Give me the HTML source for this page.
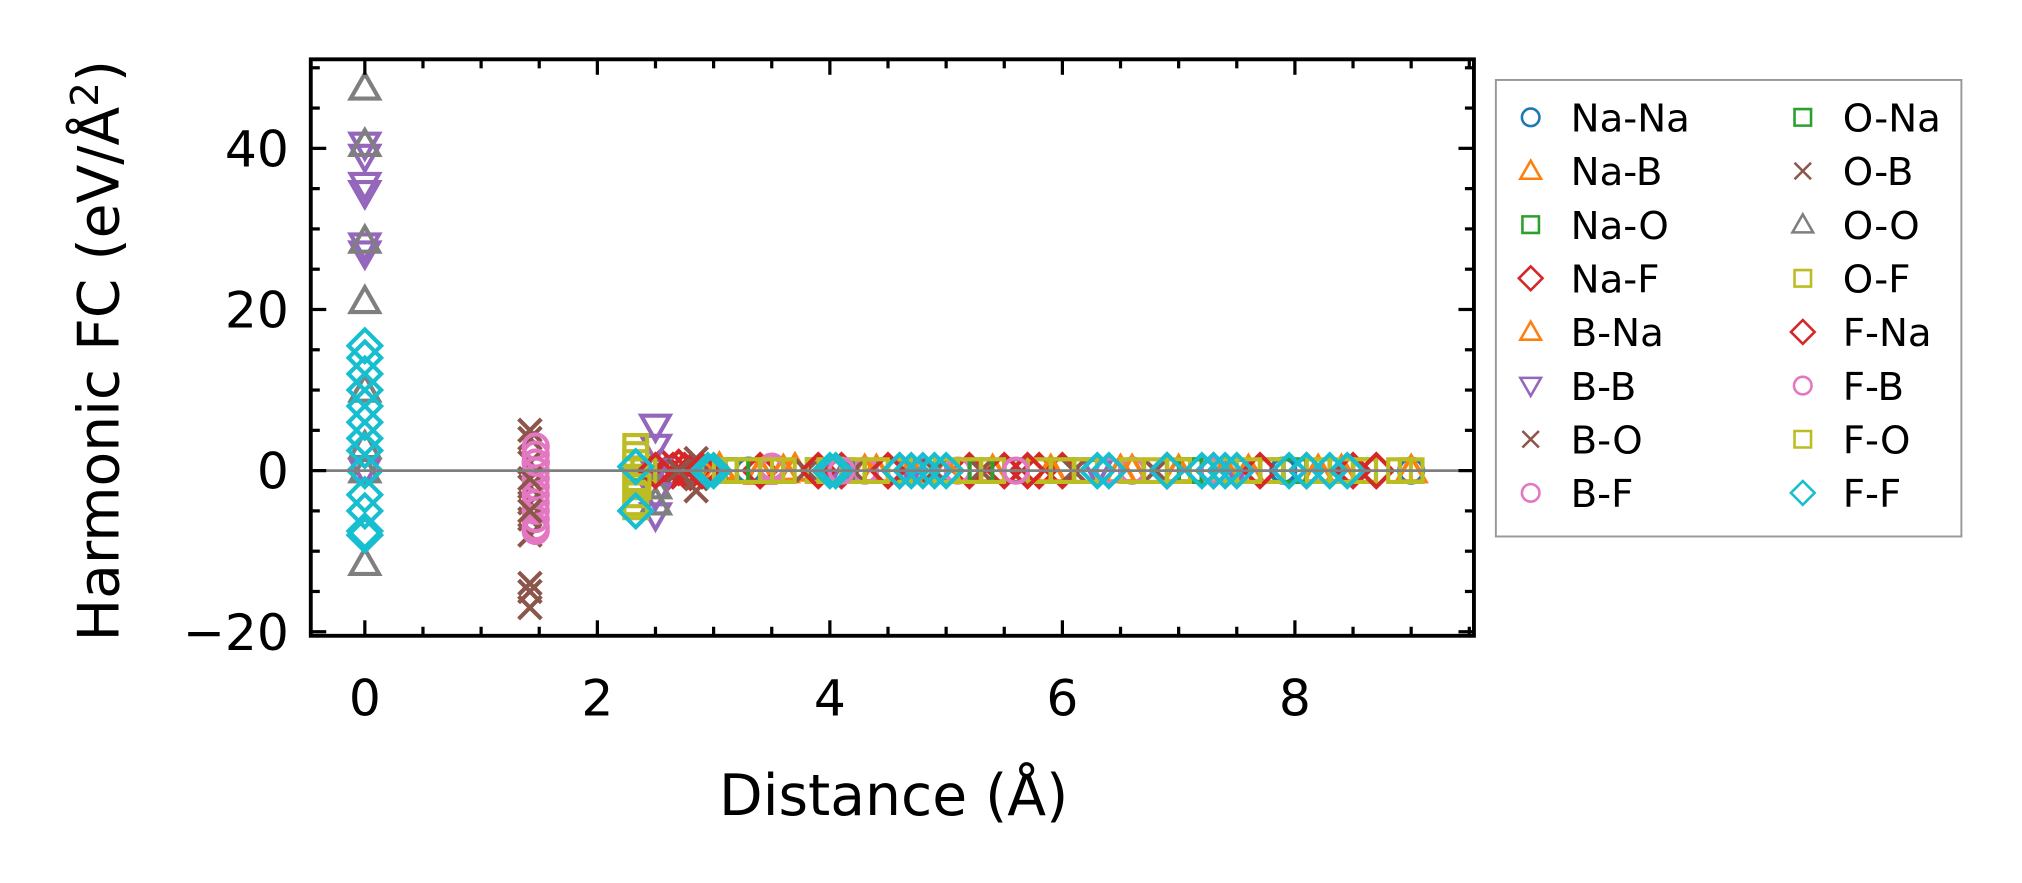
<!DOCTYPE html>
<html><head><meta charset="utf-8"><style>
html,body{margin:0;padding:0;background:#fff;}
svg{display:block;font-family:"DejaVu Sans","Liberation Sans",sans-serif;}
</style></head><body>
<svg id="chart" width="2022" height="883" viewBox="0 0 1568 684.7" preserveAspectRatio="none">
<g id="marks"></g>
<g id="axes"></g>
<g id="legend"></g>
</svg>
<script>
// ---- data ----
const seriesNames = ["Na-Na","Na-B","Na-O","Na-F","B-Na","B-B","B-O","B-F","O-Na","O-B","O-O","O-F","F-Na","F-B","F-O","F-F"];
const seriesColors = ["#1f77b4","#ff7f0e","#2ca02c","#d62728","#ff7f0e","#9467bd","#8c564b","#e377c2","#2ca02c","#8c564b","#7f7f7f","#bcbd22","#d62728","#e377c2","#bcbd22","#17becf"];
const seriesMarkers = ["o","^","s","D","^","v","x","o","s","x","^","s","D","o","s","D"];
const naNaX = [3.3,4.6,6.6,7.9,9.0];
const naNaY = [0,0,0,0,0];
const naBX = [3.05,3.4,3.7,4.3,4.7,5.4,6.5,7.0,7.6,8.4];
const naBY = [0.3,-0.2,0.2,0,0,0,0,0,0,0];
const naOX = [2.4,3.1,3.9,4.5,5.6,6.2,7.1,7.8,8.6];
const naOY = [0.2,0,0,0,0,0,0,0,0];
const naFX = [2.55,2.6,2.65,2.7,2.75,2.8,3.4,4.1,4.6,5.2,5.5,5.8,6.0,6.9,7.3,8.1,8.5];
const naFY = [0.5,-0.3,0,0.4,0,-0.2,0,0,0,0,0,0,0,0,0,0,0];
const bNaX = [3.0,3.6,4.4,5.0,5.9,6.6,7.4,8.2,9.0];
const bNaY = [0,0,0,0,0,0,0,0,0];
const bBX = [0,0,0,0,0,0,0,2.5,2.5,2.5,2.5,2.5,4.0,4.7,6.3,7.5];
const bBY = [40.5,39,35.5,34.5,28,27,0,5.5,3,-3,-5.5,0,0,0,0,0];
const bOX = [1.42,1.42,1.42,1.42,1.42,1.42,1.42,1.42,1.42,1.42,2.85,2.85,2.85,4.2,5.3,6.8];
const bOY = [5,4,1,-2,-4,-6,-8,-14,-15,-17,1.5,-1,-2.5,0,0,0];
const bFX = [1.47,1.47,1.47,1.47,1.47,1.47,1.47,1.47,1.47,1.47,1.47,1.47,3.5,4.3,5.1,6.6];
const bFY = [3,2,1,0,-1,-2,-3,-4,-5,-6,-7,-7.5,0.5,0,0,0];
const oNaX = [2.4,3.2,4.1,5.3,6.0,7.1,8.0];
const oNaY = [0,0,0,0,0,0,0];
const oBX = [1.42,1.42,2.7,3.8,4.9,6.1];
const oBY = [-1,-5,0,0,0,0];
const oOX = [0,0,0,0,0,0,0,0,2.5,2.5];
const oOY = [47.5,40.5,28.5,21,10,3,0,-11.5,-2,-4];
const oFX = [2.33,2.33,2.33,2.33,2.33,2.33,2.33,2.33,2.33,2.4,3.0,3.3,3.6,3.9,4.2,4.6,5.0,5.4,5.8,6.2,6.6,7.0,7.4,7.8,8.2,8.6,9.0];
const oFY = [3,2,1,0,-1,-2,-3,-4,-4.5,0,0,0,0,0,0,0,0,0,0,0,0,0,0,0,0,0,0];
const fNaX = [2.5,2.9,3.9,4.5,5.7,6.9,7.7,8.7];
const fNaY = [0,0,0,0,0,0,0,0];
const fBX = [1.47,3.5,4.1,5.6,6.4,7.3];
const fBY = [1,0,0,0,0,0];
const fOX = [2.35,3.1,3.5,4.0,4.4,5.2,6.0,6.8,7.6,8.4,8.9];
const fOY = [-2,0,0,0,0,0,0,0,0,0,0];
const fFX = [0,0,0,0,0,0,0,0,0,0,0,0,0,2.33,2.33,2.95,3.0,4.0,4.05,4.6,4.7,4.8,4.9,5.0,6.3,6.4,6.9,7.2,7.3,7.4,7.5,7.95,8.1,8.3,8.45];
const fFY = [15.5,14,12,10,8,6,4,2.5,0,-3,-5,-7.5,-8,0.5,-5,0,0,0,0,0,0,0,0,0,0,0,0,0,0,0,0,0,0,0,0];
const seriesX = [naNaX,naBX,naOX,naFX,bNaX,bBX,bOX,bFX,oNaX,oBX,oOX,oFX,fNaX,fBX,fOX,fFX];
const seriesY = [naNaY,naBY,naOY,naFY,bNaY,bBY,bOY,bFY,oNaY,oBY,oOY,oFY,fNaY,fBY,fOY,fFY];
const xTicks = [0,2,4,6,8];
const xTickLabels = ["0","2","4","6","8"];
const yTicks = [-20,0,20,40];
const yTickLabels = ["\u221220","0","20","40"];

// ---- scales ----
const L=241,R=1143,T=46,B=493;
const xMin=-0.465, xMax=9.54, yMin=-20.5, yMax=51.05;
const xS = v => L + (v - xMin) / (xMax - xMin) * (R - L);
const yS = v => B - (v - yMin) / (yMax - yMin) * (B - T);
const NS="http://www.w3.org/2000/svg";
function mk(tag, attrs, parent){const e=document.createElementNS(NS,tag);for(const k in attrs)e.setAttribute(k,attrs[k]);parent.appendChild(e);return e;}
function markerPath(m,x,y,s){
  if(m==="^") return `M${x},${y-s} L${x+s},${y+s*0.75} L${x-s},${y+s*0.75} Z`;
  if(m==="v") return `M${x},${y+s} L${x+s},${y-s*0.75} L${x-s},${y-s*0.75} Z`;
  if(m==="s") return `M${x-s*0.8},${y-s*0.8} h${s*1.6} v${s*1.6} h${-s*1.6} Z`;
  if(m==="D") return `M${x},${y-s*1.15} L${x+s*1.15},${y} L${x},${y+s*1.15} L${x-s*1.15},${y} Z`;
  if(m==="x") return `M${x-s*0.8},${y-s*0.8} L${x+s*0.8},${y+s*0.8} M${x+s*0.8},${y-s*0.8} L${x-s*0.8},${y+s*0.8}`;
}
function drawMarker(parent,m,x,y,s,c,w){
  let e;
  if(m==="o") e=mk("circle",{cx:x,cy:y,r:s*0.85,fill:"none",stroke:c,"stroke-width":w},parent);
  else e=mk("path",{d:markerPath(m,x,y,s),fill:"none",stroke:c,"stroke-width":w},parent);
  return e;
}
const marks=document.getElementById("marks");
seriesNames.forEach((name,i)=>{
  const g=mk("g",{},marks);
  
  
  seriesX[i].forEach((xv,j)=>{
    const e=drawMarker(g,seriesMarkers[i],xS(xv),yS(seriesY[i][j]),11,seriesColors[i],3.2);
    
    
  });
});
const zl=mk("line",{x1:L,x2:R,y1:yS(0),y2:yS(0),stroke:"#808080","stroke-width":2.2},marks);



// ---- axes ----
const ax=document.getElementById("axes");
for(let v=0;v<=9.5;v+=0.5){
  const major = Math.abs(v/2-Math.round(v/2))<1e-9;
  const len = major?12:7;
  const x=xS(v);
  mk("line",{x1:x,x2:x,y1:B,y2:B-len,stroke:"#000","stroke-width":2.5},ax);
  mk("line",{x1:x,x2:x,y1:T,y2:T+len,stroke:"#000","stroke-width":2.5},ax);
}
for(let v=-20;v<=50;v+=5){
  const major = v%20===0;
  const len = major?12:7;
  const y=yS(v);
  mk("line",{x1:L,x2:L+len,y1:y,y2:y,stroke:"#000","stroke-width":2.5},ax);
  mk("line",{x1:R,x2:R-len,y1:y,y2:y,stroke:"#000","stroke-width":2.5},ax);
}
const frame=mk("rect",{x:L,y:T,width:R-L,height:B-T,fill:"none",stroke:"#000","stroke-width":3},ax);


xTicks.forEach((v,i)=>{
  const t=mk("text",{x:xS(v),y:555,"font-size":39,"text-anchor":"middle",fill:"#000"},ax);
  t.textContent=xTickLabels[i];
  
  
});
yTicks.forEach((v,i)=>{
  const t=mk("text",{x:224,y:yS(v)+14,"font-size":39,"text-anchor":"end",fill:"#000"},ax);
  t.textContent=yTickLabels[i];
  
  
});
const xt=mk("text",{x:693,y:632,"font-size":44,"text-anchor":"middle",fill:"#000"},ax);
xt.textContent="Distance (Å)";


const yt=mk("text",{x:0,y:0,"font-size":44,"text-anchor":"middle",fill:"#000",transform:"translate(92,272) rotate(-90)"},ax);
yt.innerHTML='Harmonic FC (eV/Å<tspan dy="-16" font-size="30">2</tspan><tspan dy="16">)</tspan>';



// ---- legend ----
const lg=document.getElementById("legend");
const box=mk("rect",{x:1160,y:62,width:361,height:354,fill:"#fff",stroke:"#999","stroke-width":1.5},lg);


seriesNames.forEach((name,i)=>{
  const col=Math.floor(i/8), row=i%8;
  const mx=col?1398:1187, ty=91+row*41.6;
  const g=mk("g",{},lg);
  
  
  drawMarker(g,seriesMarkers[i],mx,ty,8,seriesColors[i],2);
  const t=mk("text",{x:mx+31,y:ty+11,"font-size":30,fill:"#000"},g);
  t.textContent=name;
});
</script>
</body></html>
